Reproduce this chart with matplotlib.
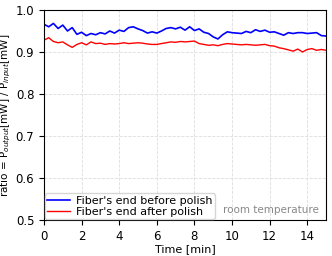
import numpy as np
import matplotlib.pyplot as plt

# time axis in minutes, sampled every 0.25 min
t = np.arange(0, 15.01, 0.25)

before = [0.966, 0.960, 0.968, 0.956, 0.964, 0.950, 0.958, 0.942, 0.947, 0.939,
          0.944, 0.941, 0.946, 0.943, 0.950, 0.945, 0.952, 0.949, 0.958, 0.960,
          0.955, 0.951, 0.945, 0.948, 0.945, 0.950, 0.956, 0.958, 0.955, 0.959,
          0.952, 0.960, 0.951, 0.955, 0.947, 0.944, 0.936, 0.931, 0.941, 0.948,
          0.946, 0.945, 0.944, 0.949, 0.946, 0.953, 0.949, 0.952, 0.947, 0.948,
          0.944, 0.940, 0.946, 0.944, 0.946, 0.946, 0.944, 0.945, 0.946, 0.939,
          0.938]

after = [0.928, 0.934, 0.925, 0.922, 0.924, 0.917, 0.911, 0.918, 0.922, 0.917,
         0.924, 0.920, 0.921, 0.918, 0.920, 0.919, 0.920, 0.922, 0.920, 0.921,
         0.922, 0.921, 0.919, 0.918, 0.918, 0.920, 0.922, 0.924, 0.923, 0.925,
         0.924, 0.925, 0.926, 0.920, 0.918, 0.916, 0.917, 0.915, 0.918, 0.920,
         0.919, 0.918, 0.917, 0.918, 0.917, 0.916, 0.917, 0.918, 0.915, 0.914,
         0.910, 0.908, 0.905, 0.902, 0.907, 0.900, 0.906, 0.908, 0.904, 0.906,
         0.904]

plt.rcParams['font.size'] = 8.5
fig = plt.figure(figsize=(3.32, 2.56), dpi=100)
ax = fig.add_axes([0.1325, 0.1406, 0.8495, 0.8204])

ax.plot(t, before, color='blue', lw=1.2, label="Fiber's end before polish")
ax.plot(t, after, color='red', lw=1.0, label="Fiber's end after polish")

ax.set_xlim(0, 15)
ax.set_ylim(0.5, 1.0)
ax.set_xticks(np.arange(0, 15, 2))
ax.set_yticks(np.arange(0.5, 1.01, 0.1))
ax.grid(True, linestyle='--', color='#dddddd', linewidth=0.6)
ax.set_xlabel('Time [min]', fontsize=8, labelpad=1)
ax.set_ylabel('ratio = P$_{output}$[mW] / P$_{input}$[mW]', fontsize=7.5,
              labelpad=2)

ax.legend(loc='lower left', borderaxespad=0.1, handlelength=2.0, fontsize=8,
          borderpad=0.2, labelspacing=0.1, handletextpad=0.6, fancybox=True)
ax.text(14.6, 0.512, 'room temperature', color='#888888', fontsize=7.5,
        ha='right', va='bottom')

fig.savefig('out.png', dpi=100)
